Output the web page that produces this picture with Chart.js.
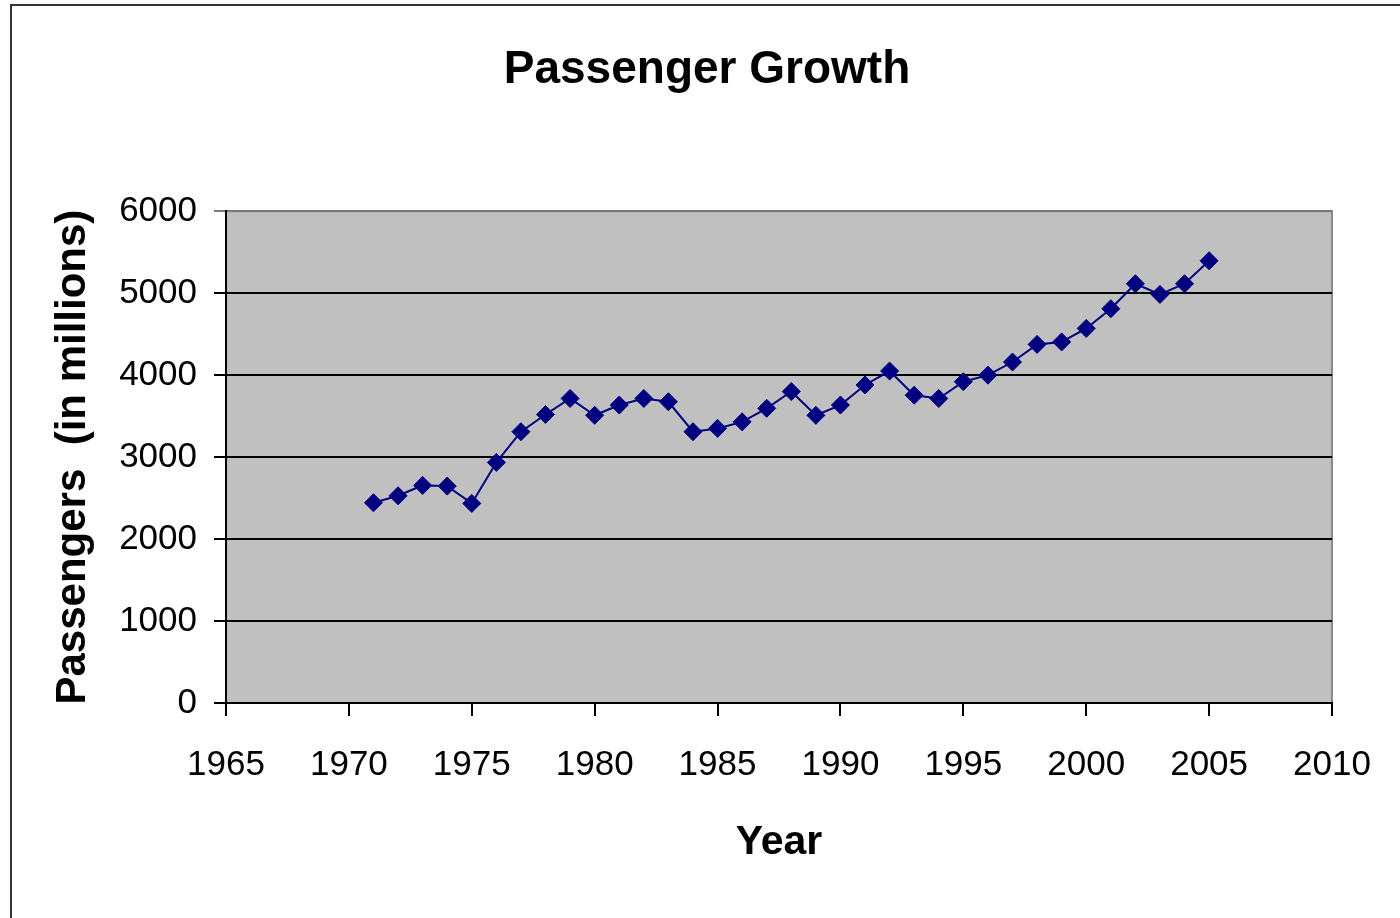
<!DOCTYPE html>
<html>
<head>
<meta charset="utf-8">
<title>Passenger Growth</title>
<script src="https://cdn.jsdelivr.net/npm/chart.js@4.4.0/dist/chart.umd.min.js"></script>
<style>
  body { margin: 0; background: #fff; }
  canvas { display: block; }
</style>
</head>
<body>
<canvas id="myChart" width="1400" height="918"></canvas>
<script>
// dados (milhoes de passageiros por ano)
const years = [1971, 1972, 1973, 1974, 1975, 1976, 1977, 1978, 1979, 1980,
  1981, 1982, 1983, 1984, 1985, 1986, 1987, 1988, 1989, 1990,
  1991, 1992, 1993, 1994, 1995, 1996, 1997, 1998, 1999, 2000,
  2001, 2002, 2003, 2004, 2005];
const passengers = [2443, 2528, 2655, 2646, 2435, 2935, 3310, 3520, 3715, 3510,
  3635, 3715, 3675, 3310, 3350, 3430, 3595, 3800, 3510, 3635,
  3880, 4050, 3755, 3715, 3920, 4000, 4160, 4375, 4405, 4570,
  4810, 5115, 4985, 5115, 5395];

// eixos
const yearMin = 1965;
const yearMax = 2010;
const yearStep = 5;
const valueMin = 0;
const valueMax = 6000;
const valueStep = 1000;

const chartTitle = "Passenger Growth";
const xTitle = "Year";
const yTitle = "Passengers  (in millions)";

const fontFamily = "'Liberation Sans', Arial, sans-serif";

const points = [];
for (let i = 0; i < years.length; i++) {
  points.push({ x: years[i], y: passengers[i] });
}

// fundo cinza da area do grafico + moldura externa
const background = {
  id: "background",
  beforeDraw(chart) {
    const ctx = chart.ctx;
    const a = chart.chartArea;
    ctx.save();
    ctx.fillStyle = "#c0c0c0";
    ctx.fillRect(a.left, a.top, a.right - a.left, a.bottom - a.top);
    ctx.strokeStyle = "#8a8a8a";
    ctx.lineWidth = 2;
    ctx.strokeRect(a.left, a.top, a.right - a.left, a.bottom - a.top);
    ctx.strokeStyle = "#333";
    ctx.lineWidth = 2;
    ctx.strokeRect(11, 5, 1400, 1000);
    ctx.restore();
  }
};

const config = {
  type: "line",
  data: {
    datasets: [
      {
        label: "Passengers",
        data: points,
        borderColor: "#000080",
        borderWidth: 2,
        backgroundColor: "#000080",
        pointStyle: "rectRot",
        pointRadius: 9,
        pointBorderWidth: 1,
        pointBackgroundColor: "#000080",
        pointBorderColor: "#000080",
        tension: 0
      }
    ]
  },
  options: {
    responsive: false,
    animation: false,
    layout: { padding: { left: 14, top: 0, right: 0, bottom: 0 } },
    plugins: {
      legend: { display: false },
      tooltip: { enabled: false },
      title: {
        display: true,
        text: chartTitle,
        color: "#000",
        font: { family: fontFamily, size: 46, weight: "bold", lineHeight: 1.2 },
        padding: { top: 43, bottom: 113 }
      }
    },
    scales: {
      x: {
        type: "linear",
        min: yearMin,
        max: yearMax,
        afterFit(scale) {
          scale.height = 215;
          scale.paddingLeft = 0;
          scale.paddingRight = 68; // espaco a direita do grafico
        },
        ticks: {
          stepSize: yearStep,
          color: "#000",
          padding: 28,
          maxRotation: 0,
          font: { family: fontFamily, size: 35 },
          callback: (v) => String(v)
        },
        grid: {
          drawOnChartArea: false,
          drawTicks: true,
          tickLength: 13,
          color: "#000",
          lineWidth: 2
        },
        border: { display: true, color: "#000", width: 2 },
        title: {
          display: true,
          text: xTitle,
          color: "#000",
          font: { family: fontFamily, size: 41, weight: "bold", lineHeight: 1.2 },
          padding: { top: 0, bottom: 51 }
        }
      },
      y: {
        type: "linear",
        min: valueMin,
        max: valueMax,
        afterFit(scale) {
          scale.width = 212;
          scale.paddingTop = 0;
          scale.paddingBottom = 0;
        },
        ticks: {
          stepSize: valueStep,
          color: "#000",
          padding: 17,
          font: { family: fontFamily, size: 35 },
          callback: (v) => String(v)
        },
        grid: {
          drawOnChartArea: true,
          tickLength: 12,
          lineWidth: 2,
          color: (c) => (c.tick && c.tick.value === valueMax ? "#7a7a7a" : "#000")
        },
        border: { display: true, color: "#000", width: 2 },
        title: {
          display: true,
          text: yTitle,
          color: "#000",
          font: { family: fontFamily, size: 42, weight: "bold", lineHeight: 1.2 },
          padding: { top: 34, bottom: 0 }
        }
      }
    }
  },
  plugins: [background]
};

const myChart = new Chart(document.getElementById("myChart"), config);
</script>
</body>
</html>
